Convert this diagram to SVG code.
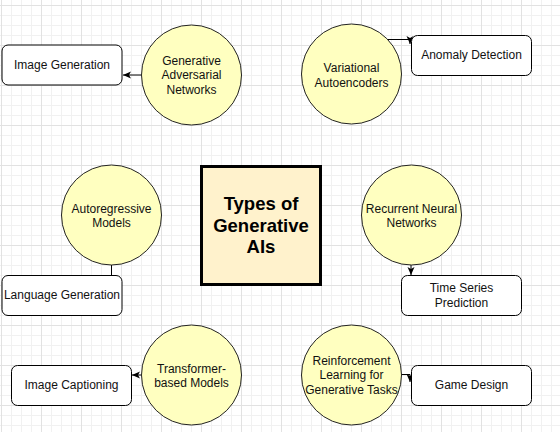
<svg xmlns="http://www.w3.org/2000/svg" width="560" height="432" viewBox="0 0 560 432">
<defs>
<pattern id="minor" x="1" y="5" width="10" height="10" patternUnits="userSpaceOnUse">
<path d="M0,0.5 H10 M0.5,0 V10" stroke="#f1f1f1" stroke-width="1" fill="none"/>
</pattern>
<pattern id="major" x="1" y="5" width="40" height="40" patternUnits="userSpaceOnUse">
<path d="M0,0.5 H40 M0.5,0 V40" stroke="#e2e2e2" stroke-width="1" fill="none"/>
</pattern>
<marker id="arr" markerUnits="userSpaceOnUse" markerWidth="9" markerHeight="9" refX="8" refY="4" orient="auto">
<path d="M0,0.5 L8,4 L0,7.5 L2,4 Z" fill="#000"/>
</marker>
<style>
.c{fill:#ffffc0;stroke:#222;stroke-width:1}
.b{fill:#fff;stroke:#000;stroke-width:1}
.t{font-family:"Liberation Sans",Arial,sans-serif;font-size:12px;fill:#111;text-anchor:middle}
.h{font-family:"Liberation Sans",Arial,sans-serif;font-size:18.5px;font-weight:bold;fill:#000;text-anchor:middle}
.e{fill:none;stroke:#000;stroke-width:1}
</style>
</defs>
<rect width="560" height="432" fill="#fff"/>
<rect width="560" height="432" fill="url(#minor)"/>
<rect width="560" height="432" fill="url(#major)"/>

<g id="connectors">
<path class="e" d="M141,75 H123" marker-end="url(#arr)"/>
<path class="e" d="M386,39.5 H410 V44" marker-end="url(#arr)"/>
<path class="e" d="M111.5,265 V275"/>
<path class="e" d="M411,265 V275" marker-end="url(#arr)"/>
<path class="e" d="M141,375 H132" marker-end="url(#arr)"/>
<path class="e" d="M401,374.5 H410 V382" marker-end="url(#arr)"/>
</g>

<g id="center">
<rect x="201.5" y="166.5" width="119" height="118" fill="#fff2cc" stroke="#000" stroke-width="3"/>
<text class="h" x="261" y="209.5">Types of</text>
<text class="h" x="261" y="232">Generative</text>
<text class="h" x="261" y="253">AIs</text>
</g>

<g id="gan">
<circle class="c" cx="191.5" cy="75" r="50"/>
<text class="t" x="191.5" y="65.3">Generative</text>
<text class="t" x="191.5" y="79.3">Adversarial</text>
<text class="t" x="191.5" y="93.6">Networks</text>
</g>
<g id="image-generation">
<rect class="b" x="2" y="45" width="120" height="40" rx="6"/>
<text class="t" x="62" y="68.5">Image Generation</text>
</g>

<g id="vae">
<circle class="c" cx="351.5" cy="74" r="50"/>
<text class="t" x="351.5" y="72">Variational</text>
<text class="t" x="351.5" y="86.5">Autoencoders</text>
</g>
<g id="anomaly-detection">
<rect class="b" x="411.5" y="35.5" width="120" height="40" rx="6"/>
<text class="t" x="471.5" y="58.5">Anomaly Detection</text>
</g>

<g id="autoregressive">
<circle class="c" cx="111.5" cy="215" r="50"/>
<text class="t" x="111.5" y="212.5">Autoregressive</text>
<text class="t" x="111.5" y="226.5">Models</text>
</g>
<g id="language-generation">
<rect class="b" x="2" y="275.5" width="120" height="40" rx="6"/>
<text class="t" x="62" y="299.3">Language Generation</text>
</g>

<g id="rnn">
<circle class="c" cx="411.5" cy="215" r="50"/>
<text class="t" x="411.5" y="212.5">Recurrent Neural</text>
<text class="t" x="411.5" y="226.5">Networks</text>
</g>
<g id="time-series">
<rect class="b" x="401.5" y="275.5" width="120" height="40" rx="6"/>
<text class="t" x="461.5" y="292">Time Series</text>
<text class="t" x="461.5" y="307">Prediction</text>
</g>

<g id="transformer">
<circle class="c" cx="191.5" cy="375" r="50"/>
<text class="t" x="191.5" y="372.5">Transformer-</text>
<text class="t" x="191.5" y="386.5">based Models</text>
</g>
<g id="image-captioning">
<rect class="b" x="11.5" y="365.5" width="120" height="40" rx="6"/>
<text class="t" x="71.5" y="388.5">Image Captioning</text>
</g>

<g id="rl">
<circle class="c" cx="351.5" cy="375" r="50"/>
<text class="t" x="351.5" y="365.3">Reinforcement</text>
<text class="t" x="351.5" y="379.3">Learning for</text>
<text class="t" x="351.5" y="393.6">Generative Tasks</text>
</g>
<g id="game-design">
<rect class="b" x="411.5" y="365.5" width="120" height="40" rx="6"/>
<text class="t" x="471.5" y="388.5">Game Design</text>
</g>
</svg>
